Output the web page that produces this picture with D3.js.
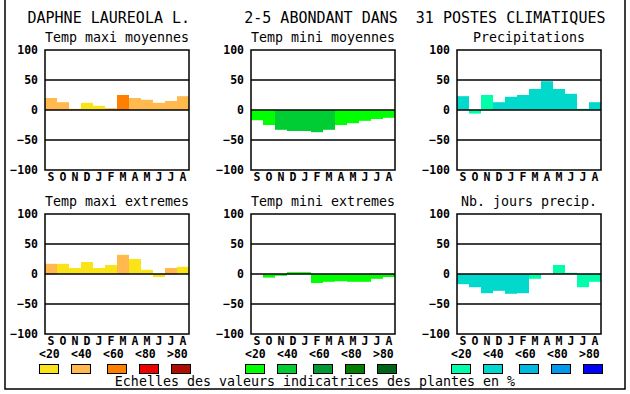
<!DOCTYPE html>
<html><head><meta charset="utf-8">
<script src="https://cdn.jsdelivr.net/npm/d3@7"></script>
<style>
html,body{margin:0;padding:0;background:#fff;}
svg{display:block;}
text{font-family:"DejaVu Sans Mono","Liberation Mono",monospace;}
</style></head>
<body><div id="chart"></div>
<script>
const months = ["S","O","N","D","J","F","M","A","M","J","J","A"];
const yTicks = [100, 50, 0, -50, -100];
const classLabels = ["<20","<40","<60","<80",">80"];
const warmColors = ["#fbe31a","#ffb94f","#ff7f00","#ee0000","#b00c00"];
const greenColors = ["#00ff00","#00cc33","#009933","#007f00","#006418"];
const blueColors = ["#00ffaa","#00d9cc","#00b9e0","#0099ee","#0000ff"];

const titleText = "DAPHNE LAUREOLA L.      2-5 ABONDANT DANS  31 POSTES CLIMATIQUES";
const footerText = "Echelles des valeurs indicatrices des plantes en %";

const panelTitles = ["Temp maxi moyennes","Temp mini moyennes","Precipitations",
                     "Temp maxi extremes","Temp mini extremes","Nb. jours precip."];

const tmaxMoyVals = [20, 13, 2, 12, 7, 3, 25, 20, 17, 12, 15, 23];
const tmaxMoyCls  = [1, 1, 1, 0, 0, 1, 2, 1, 1, 1, 1, 1];
const tminMoyVals = [-17, -25, -33, -35, -35, -37, -33, -25, -22, -18, -15, -13];
const tminMoyCls  = [0, 0, 1, 1, 1, 1, 1, 0, 0, 0, 0, 0];
const precVals    = [23, -6, 25, 13, 22, 25, 35, 48, 35, 27, 2, 13];
const precCls     = [1, 0, 0, 1, 1, 1, 1, 1, 1, 1, 0, 1];
const tmaxExtVals = [17, 17, 10, 20, 10, 15, 32, 25, 7, -5, 10, 12];
const tmaxExtCls  = [1, 0, 0, 0, 0, 0, 1, 0, 0, 0, 1, 0];
const tminExtVals = [0, -6, -3, 3, 3, -15, -13, -12, -13, -13, -8, -5];
const tminExtCls  = [0, 0, 0, 0, 0, 0, 0, 0, 0, 0, 0, 0];
const joursVals   = [-17, -22, -32, -28, -33, -32, -8, 0, 15, 2, -22, -13];
const joursCls    = [1, 1, 1, 1, 1, 1, 0, 0, 0, 0, 0, 0];

const panels = [
  {vals: tmaxMoyVals, cls: tmaxMoyCls, pal: warmColors},
  {vals: tminMoyVals, cls: tminMoyCls, pal: greenColors},
  {vals: precVals, cls: precCls, pal: blueColors},
  {vals: tmaxExtVals, cls: tmaxExtCls, pal: warmColors},
  {vals: tminExtVals, cls: tminExtCls, pal: greenColors},
  {vals: joursVals, cls: joursCls, pal: blueColors}
];

const W = 630, H = 394;
const svg = d3.select("#chart").append("svg").attr("width", W).attr("height", H);

// outer frame
svg.append("path").attr("d", `M5,0 V389 H625 V0`).attr("fill","none")
  .attr("stroke","#000").attr("stroke-width",1.5);

svg.append("text").attr("x", 27.5).attr("y", 23).attr("font-size", 15)
  .style("white-space","pre").attr("xml:space","preserve").attr("fill","#000")
  .text(titleText);

const colX = [45, 251, 457], rowY = [50, 214];
const pw = 144, ph = 120;

panels.forEach((p, i) => {
  const x0 = colX[i % 3], y0 = rowY[Math.floor(i / 3)];
  const g = svg.append("g").attr("transform", `translate(${x0},${y0})`);
  const x = d3.scaleBand().domain(d3.range(12)).range([0, pw]).padding(0);
  const y = d3.scaleLinear().domain([-100, 100]).range([ph, 0]);

  g.selectAll("rect.bar").data(p.vals).join("rect").attr("class","bar")
    .attr("x", (d, j) => x(j)).attr("width", x.bandwidth())
    .attr("y", d => y(Math.max(0, d))).attr("height", d => Math.abs(y(d) - y(0)))
    .attr("fill", (d, j) => p.pal[p.cls[j]]);

  g.selectAll("line.grid").data([50, 0, -50]).join("line").attr("class","grid")
    .attr("x1", 0).attr("x2", pw).attr("y1", d => y(d)).attr("y2", d => y(d))
    .attr("stroke","#000").attr("stroke-width",1.5);

  g.append("rect").attr("x",0).attr("y",0).attr("width",pw).attr("height",ph)
    .attr("fill","none").attr("stroke","#000").attr("stroke-width",1.5);

  // y axis labels
  const ya = d3.axisLeft(y).tickValues(yTicks).tickSize(0).tickPadding(7);
  const ay = g.append("g").call(ya);
  ay.select(".domain").remove();
  ay.selectAll("text").attr("font-family","DejaVu Sans Mono, monospace")
    .attr("font-weight","bold").attr("font-size",11.5).attr("fill","#000");

  // x axis labels
  const xa = d3.axisBottom(x).tickFormat(j => months[j]).tickSize(0).tickPadding(3);
  const ax = g.append("g").attr("transform", `translate(0,${ph})`).call(xa);
  ax.select(".domain").remove();
  ax.selectAll("text").attr("font-family","DejaVu Sans Mono, monospace")
    .attr("font-weight","bold").attr("font-size",11.5).attr("fill","#000");

  g.append("text").attr("x", pw / 2).attr("y", -8).attr("text-anchor","middle")
    .attr("font-size", 13.3).attr("fill","#000").text(panelTitles[i]);
});

// legend
const labelOff = [0, 32, 64, 96, 128];
const swatchOff = [0, 32, 68, 100, 132];
const pals = [warmColors, greenColors, blueColors];
pals.forEach((pal, k) => {
  const bx = colX[k] - 6;
  svg.selectAll(null).data(classLabels).join("text")
    .attr("x", (d, j) => bx + labelOff[j]).attr("y", 358)
    .attr("font-size", 11.5).attr("font-weight","bold").attr("fill","#000").text(d => d);
  svg.selectAll(null).data(pal).join("rect")
    .attr("x", (d, j) => bx + swatchOff[j] + 0.5).attr("y", 364.5)
    .attr("width", 19).attr("height", 9)
    .attr("fill", d => d).attr("stroke","#000").attr("stroke-width",1);
});

svg.append("text").attr("x", W / 2).attr("y", 386).attr("text-anchor","middle")
  .attr("font-size", 13.3).attr("fill","#000").text(footerText);
</script></body></html>
